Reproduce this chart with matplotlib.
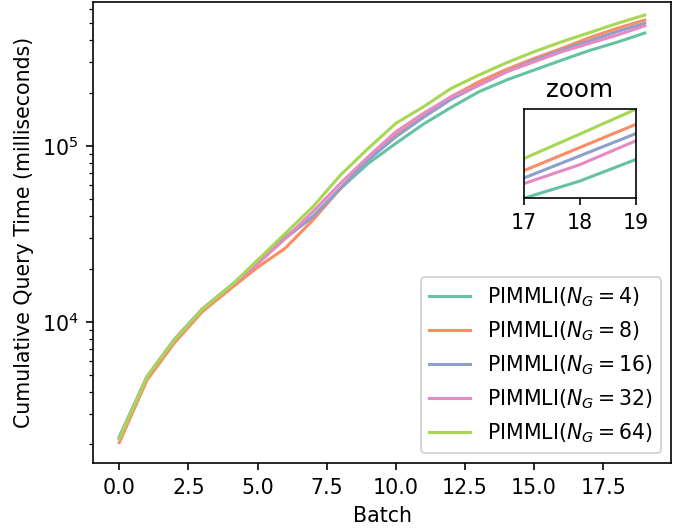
import numpy as np
import matplotlib
matplotlib.use("Agg")
import matplotlib.pyplot as plt

# cumulative query time per batch (ms), one list per group count
batches = list(range(20))
group_counts = [4, 8, 16, 32, 64]

time_ng4 = [2200, 4850, 7950, 11800, 15900, 21500, 30500, 39600, 57400, 79600,
            103600, 133400, 166000, 203600, 237700, 270900, 308400, 350000, 390000, 440000]
time_ng8 = [2050, 4650, 7600, 11400, 15300, 20400, 26200, 37900, 57400, 85100,
            115500, 146900, 190900, 232000, 273000, 315500, 359600, 414000, 467800, 521500]
time_ng16 = [2200, 4860, 7950, 11800, 15850, 21500, 29800, 39600, 57400, 83300,
             112900, 145700, 184600, 222000, 264600, 308400, 351900, 397000, 448400, 500000]
time_ng32 = [2150, 4850, 7900, 11750, 15800, 21400, 29800, 42300, 61400, 86900,
             120600, 153500, 190900, 222000, 264600, 301600, 344300, 384000, 428000, 483400]
time_ng64 = [2150, 4850, 7900, 11750, 15850, 22400, 31800, 45100, 68400, 97000,
             134700, 167400, 213000, 253500, 297900, 344300, 392500, 442100, 499000, 556600]

series = [time_ng4, time_ng8, time_ng16, time_ng32, time_ng64]
colors = plt.get_cmap("Set2").colors[:5]

DPI = 148
fig = plt.figure(figsize=(678 / DPI, 529 / DPI), dpi=DPI)
ax = fig.add_axes([0.1372, 0.1242, 0.8525, 0.8720])

for ng, vals, c in zip(group_counts, series, colors):
    ax.plot(batches, vals, color=c, label=rf"PIMMLI($N_G = {ng}$)")

ax.set_yscale("log")
ax.set_ylim(10 ** 3.194, 10 ** 5.82)
ax.set_xlabel("Batch")
ax.set_ylabel("Cumulative Query Time (milliseconds)")
ax.legend(loc="lower right")

# zoomed view of the last three batches
axins = fig.add_axes([0.7724, 0.6251, 0.1652, 0.1683])
for vals, c in zip(series, colors):
    axins.plot(batches, vals, color=c)
axins.set_xlim(17, 19)
axins.set_ylim(min(s[17] for s in series), max(s[19] for s in series))
axins.set_xticks([17, 18, 19])
axins.set_yticks([])
axins.set_title("zoom")

fig.savefig("out.png", dpi=DPI)
